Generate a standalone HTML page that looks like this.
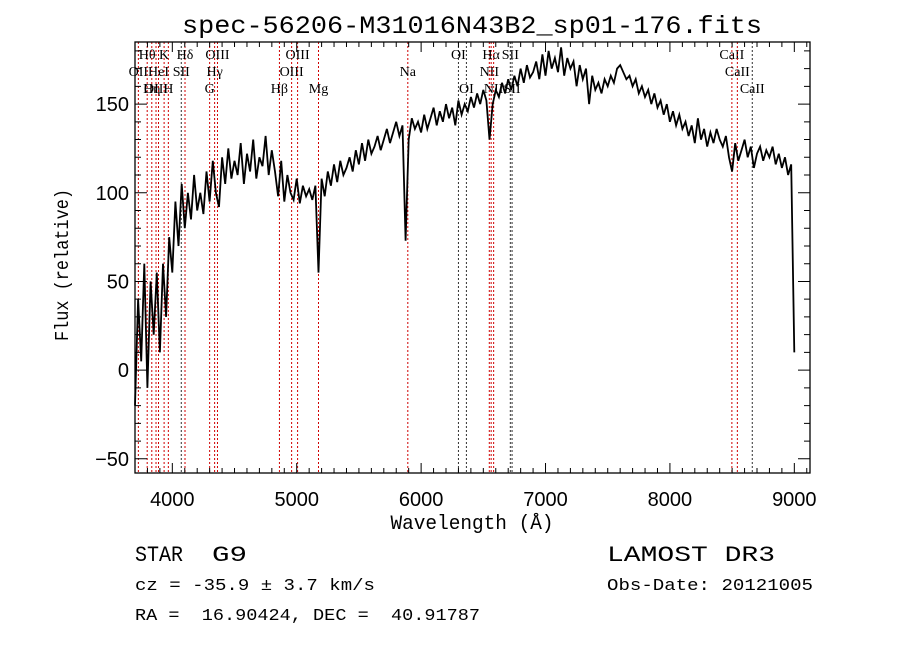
<!DOCTYPE html>
<html><head><meta charset="utf-8">
<style>
html,body{margin:0;padding:0;background:#fff;}
svg{display:block;}
text{font-family:"Liberation Serif",serif;fill:#000;white-space:pre;}
.mono{font-family:"Liberation Mono",monospace;}
</style></head>
<body>
<svg id="chart" width="900" height="649" viewBox="0 0 900 649" xmlns="http://www.w3.org/2000/svg" xml:space="preserve">
<text class="mono" x="472" y="33" font-size="25" text-anchor="middle" textLength="580" lengthAdjust="spacingAndGlyphs">spec-56206-M31016N43B2_sp01-176.fits</text>
<g id="lines"></g>
<g id="series"></g>
<g id="axes"></g>
<text class="mono" x="472" y="529" font-size="20" text-anchor="middle" textLength="163" lengthAdjust="spacingAndGlyphs">Wavelength (Å)</text>
<text class="mono" transform="translate(68,265) rotate(-90)" font-size="19" text-anchor="middle" textLength="152" lengthAdjust="spacingAndGlyphs">Flux (relative)</text>
<text class="mono" x="135" y="561" font-size="22" textLength="48" lengthAdjust="spacingAndGlyphs">STAR</text>
<text class="mono" x="212" y="561" font-size="22" textLength="35" lengthAdjust="spacingAndGlyphs">G9</text>
<text class="mono" x="607" y="561" font-size="22" textLength="168" lengthAdjust="spacingAndGlyphs">LAMOST DR3</text>
<text class="mono" x="135" y="590" font-size="17" textLength="240" lengthAdjust="spacingAndGlyphs">cz = -35.9 ± 3.7 km/s</text>
<text class="mono" x="607" y="590" font-size="17" textLength="206" lengthAdjust="spacingAndGlyphs">Obs-Date: 20121005</text>
<text class="mono" x="135" y="620" font-size="17" textLength="345" lengthAdjust="spacingAndGlyphs">RA =  16.90424, DEC =  40.91787</text>
</svg>
<script>
const wlStart = 3700;
const wlStep = 25;
const flux = [
-20,40,5,60,-10,50,20,55,10,60,30,
75,55,95,70,105,80,100,85,110,90,
100,88,112,95,118,100,92,120,105,125,108,118,
110,128,105,122,112,130,108,120,115,132,110,124,
112,98,118,95,110,100,96,108,94,104,98,102,
96,104,55,108,98,112,104,116,106,118,110,114,
120,112,124,116,128,118,130,122,126,132,124,130,
136,128,134,140,132,138,73,130,142,136,140,134,
144,136,142,148,138,146,140,150,142,148,138,152,
144,150,146,154,148,156,150,158,152,130,150,158,
154,162,156,164,158,166,160,170,162,172,165,168,
174,164,178,166,180,170,176,168,182,166,176,170,
174,160,172,164,170,150,166,158,162,156,164,160,
166,162,170,172,168,164,166,160,164,156,160,154,
158,150,156,148,152,144,150,140,146,138,144,136,
140,132,138,128,142,130,136,126,134,128,136,130,
126,132,120,112,128,118,124,130,120,126,114,122,
126,118,124,120,126,116,122,114,120,110,116,10
];
const lineNames = ["OII","Hθ","Hη","OIII","HeI","K","H","SII","Hδ","G","Hγ","OIII","Hβ","OIII","OIII","Mg","Na","OI","OI","NII","Hα","NII","SII","SII","CaII","CaII","CaII"];
const lineWaves = [3727,3798,3835,3869,3889,3934,3968,4072,4102,4300,4340,4363,4861,4959,5007,5175,5893,6300,6364,6548,6563,6583,6717,6731,8498,8542,8662];
const lineRows = [2,1,3,3,2,1,3,2,1,3,2,1,3,2,1,3,2,1,3,2,1,3,1,3,1,2,3];
const lineRed = [1,1,1,1,1,1,1,0,1,1,1,1,1,1,1,1,1,0,0,1,1,1,0,0,1,1,0];
const xTicks = [4000,5000,6000,7000,8000,9000];
const yTicks = [-50,0,50,100,150];

const L=135,R=810,T=42,B=473;
const xmin=3700,xmax=9126,ymin=-58,ymax=185;
const X=w=>L+(w-xmin)/(xmax-xmin)*(R-L);
const Y=v=>B-(v-ymin)/(ymax-ymin)*(B-T);
const NS="http://www.w3.org/2000/svg";
function mk(tag,parent){const e=document.createElementNS(NS,tag);parent.appendChild(e);return e;}

const gl=document.getElementById('lines');
lineWaves.forEach((w,i)=>{
  const ln=mk('line',gl);
  
  
  ln.setAttribute('x1',X(w));ln.setAttribute('x2',X(w));
  ln.setAttribute('y1',T);ln.setAttribute('y2',B);
  ln.setAttribute('stroke',lineRed[i]?'#d00000':'#303030');
  ln.setAttribute('stroke-width','1');
  ln.setAttribute('stroke-dasharray','2,2');
  const t=mk('text',gl);
  
  
  t.setAttribute('x',X(w));
  t.setAttribute('y',T+17+(lineRows[i]-1)*17);
  t.setAttribute('font-size','14');
  t.setAttribute('text-anchor','middle');
  t.textContent=lineNames[i];
});

const gs=document.getElementById('series');
let d='';
flux.forEach((v,i)=>{const w=wlStart+i*wlStep;d+=(i?'L':'M')+X(w).toFixed(1)+','+Math.min(Math.max(Y(v),T),B).toFixed(1);});
const p=mk('path',gs);


p.setAttribute('d',d);p.setAttribute('fill','none');p.setAttribute('stroke','#000');p.setAttribute('stroke-width','1.8');

const ga=document.getElementById('axes');
const fr=mk('rect',ga);


fr.setAttribute('x',L);fr.setAttribute('y',T);fr.setAttribute('width',R-L);fr.setAttribute('height',B-T);
fr.setAttribute('fill','none');fr.setAttribute('stroke','#000');fr.setAttribute('stroke-width','1.3');
let td='';
for(let w=3700;w<=xmax;w+=100){const x=X(w);const len=(w%1000===0)?10:5;td+=`M${x},${B}v${-len}M${x},${T}v${len}`;}
for(let v=-50;v<=ymax;v+=10){const y=Y(v);const len=(v%50===0)?12:6;td+=`M${L},${y}h${len}M${R},${y}h${-len}`;}
const tk=mk('path',ga);


tk.setAttribute('d',td);tk.setAttribute('stroke','#000');tk.setAttribute('stroke-width','1');
xTicks.forEach(w=>{const t=mk('text',ga);
  
  
  t.setAttribute('x',X(w));t.setAttribute('y',B+33);t.setAttribute('font-size','20');t.setAttribute('text-anchor','middle');
  t.setAttribute('style','font-family:"Liberation Sans",sans-serif');t.textContent=w;});
yTicks.forEach(v=>{const t=mk('text',ga);
  
  
  t.setAttribute('x',L-6);t.setAttribute('y',Y(v)+7);t.setAttribute('font-size','20');t.setAttribute('text-anchor','end');
  t.setAttribute('style','font-family:"Liberation Sans",sans-serif');t.textContent=v===-50?'−50':v;});
</script>
</body></html>
